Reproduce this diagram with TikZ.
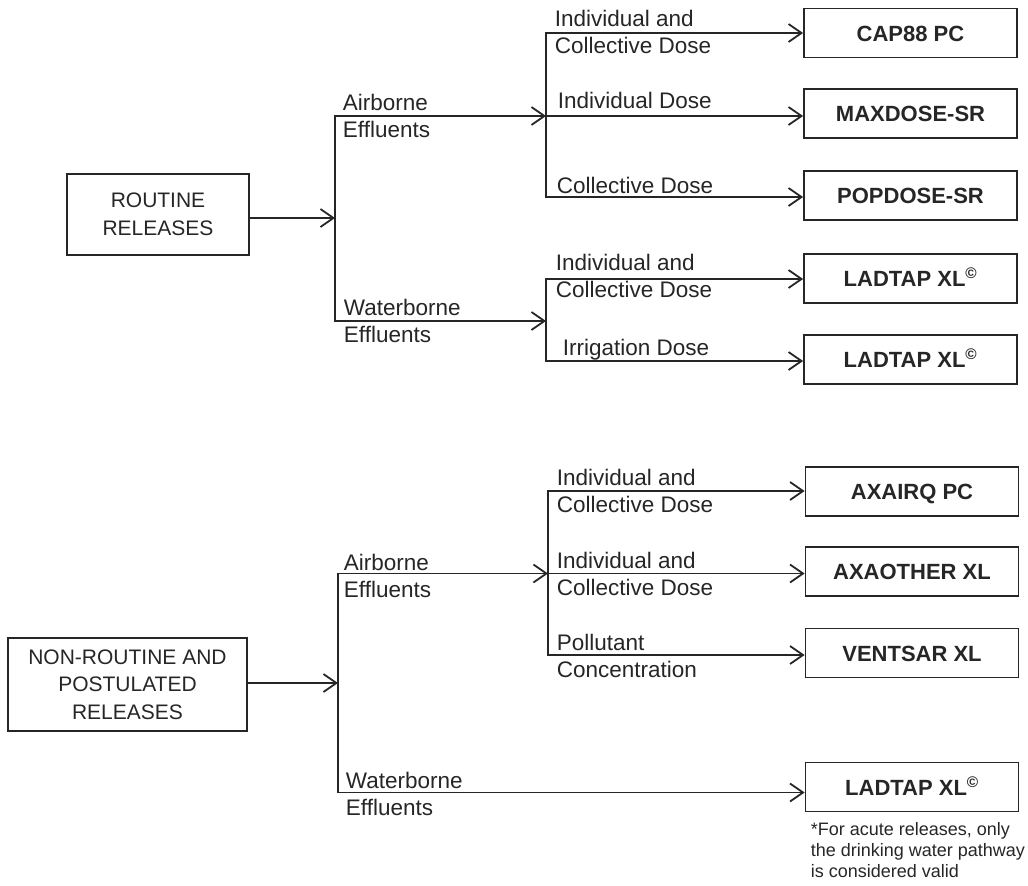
\documentclass[tikz,border=0pt]{standalone}
\usepackage{fontspec}
\setmainfont{Liberation Sans}
\usetikzlibrary{arrows.meta}
\definecolor{ink}{HTML}{262626}
\begin{document}
\begin{tikzpicture}[x=1pt,y=-1pt,color=ink,line width=1.8pt,
  box/.style={draw, minimum width=213pt, minimum height=49pt, inner sep=0pt,
    font=\fontsize{22}{27}\selectfont\bfseries, text height=16pt, text depth=0pt},
  src/.style={draw, align=center, inner sep=0pt, font=\fontsize{21}{27.5}\selectfont},
  lbl/.style={anchor=base west, align=left, inner sep=0pt, font=\fontsize{22.5}{26.5}\selectfont},
  note/.style={anchor=base west, align=left, inner sep=0pt, font=\fontsize{18}{21}\selectfont},
  arr/.style={-{Straight Barb[length=13pt,width=18pt]}},
  bar/.style={line cap=rect}]
\useasboundingbox (0,0) rectangle (1028,886);

% sources
\node[src, minimum width=182pt, minimum height=81pt] (routine) at (158,214.5) {ROUTINE\\RELEASES};
\node[src, minimum width=239pt, minimum height=93pt] (nonroutine) at (127.5,684.5) {NON-ROUTINE AND\\POSTULATED\\RELEASES};

% target boxes
\node[box] (cap88) at (910.5,33) {CAP88 PC};
\node[box] (maxdose) at (910.5,113.5) {MAXDOSE-SR};
\node[box] (popdose) at (910.5,195.5) {POPDOSE-SR};
\node[box] (ladtapA) at (910.5,278.5) {LADTAP XL\textsuperscript{\textcopyright}};
\node[box] (ladtapB) at (910.5,359.5) {LADTAP XL\textsuperscript{\textcopyright}};
\node[box] (axairq) at (912,491.5) {AXAIRQ PC};
\node[box] (axaother) at (912,571.5) {AXAOTHER XL};
\node[box] (ventsar) at (912,653) {VENTSAR XL};
\node[box] (ladtapC) at (912,787) {LADTAP XL\textsuperscript{\textcopyright}};

% junction coordinates
\coordinate (j0) at (335,218);
\coordinate (a0) at (335,116);
\coordinate (w0) at (335,321);
\coordinate (a1) at (546,116);
\coordinate (a1t) at (546,33);
\coordinate (a1b) at (546,197);
\coordinate (w1) at (546,321);
\coordinate (w1t) at (546,279);
\coordinate (w1b) at (546,361);
\coordinate (j2) at (338,683);
\coordinate (a2) at (338,573.5);
\coordinate (w2) at (338,792.5);
\coordinate (a3) at (548,573.5);
\coordinate (a3t) at (548,491);
\coordinate (a3b) at (548,655);

% routine tree
\draw[arr] (j0 -| routine.east) -- (j0);
\draw[bar] (a0) -- (w0);
\draw[arr] (a0) -- (a1);
\draw[arr] (w0) -- (w1);
\draw[bar] (a1t) -- (a1b);
\draw[arr] (a1t) -- (a1t -| cap88.west);
\draw[arr] (a1) -- (a1 -| maxdose.west);
\draw[arr] (a1b) -- (a1b -| popdose.west);
\draw[bar] (w1t) -- (w1b);
\draw[arr] (w1t) -- (w1t -| ladtapA.west);
\draw[arr] (w1b) -- (w1b -| ladtapB.west);

% non-routine tree
\draw[arr] (j2 -| nonroutine.east) -- (j2);
\draw[bar] (a2) -- (w2);
\draw[arr] (a2) -- (a3);
\draw[bar] (a3t) -- (a3b);
\draw[arr] (a3t) -- (a3t -| axairq.west);
\draw[arr] (a3) -- (a3 -| axaother.west);
\draw[arr] (a3b) -- (a3b -| ventsar.west);
\draw[arr] (w2) -- (w2 -| ladtapC.west);

% labels (anchor = baseline of last line)
\node[lbl] (l1) at (342,137) {Airborne\\Effluents};
\node[lbl] (l2) at (343,342) {Waterborne\\Effluents};
\node[lbl] (l3) at (554,53) {Individual and\\Collective Dose};
\node[lbl] (l4) at (557,108) {Individual Dose};
\node[lbl] (l5) at (556,193) {Collective Dose};
\node[lbl] (l6) at (555,297) {Individual and\\Collective Dose};
\node[lbl] (l7) at (562,355) {Irrigation Dose};
\node[lbl] (l8) at (343,597) {Airborne\\Effluents};
\node[lbl] (l9) at (345,815) {Waterborne\\Effluents};
\node[lbl] (l10) at (556,512) {Individual and\\Collective Dose};
\node[lbl] (l11) at (556,595) {Individual and\\Collective Dose};
\node[lbl] (l12) at (556,677) {Pollutant\\Concentration};
\node[note] (fn) at (810,877) {*For acute releases, only\\the drinking water pathway\\is considered valid};
\end{tikzpicture}
\end{document}
